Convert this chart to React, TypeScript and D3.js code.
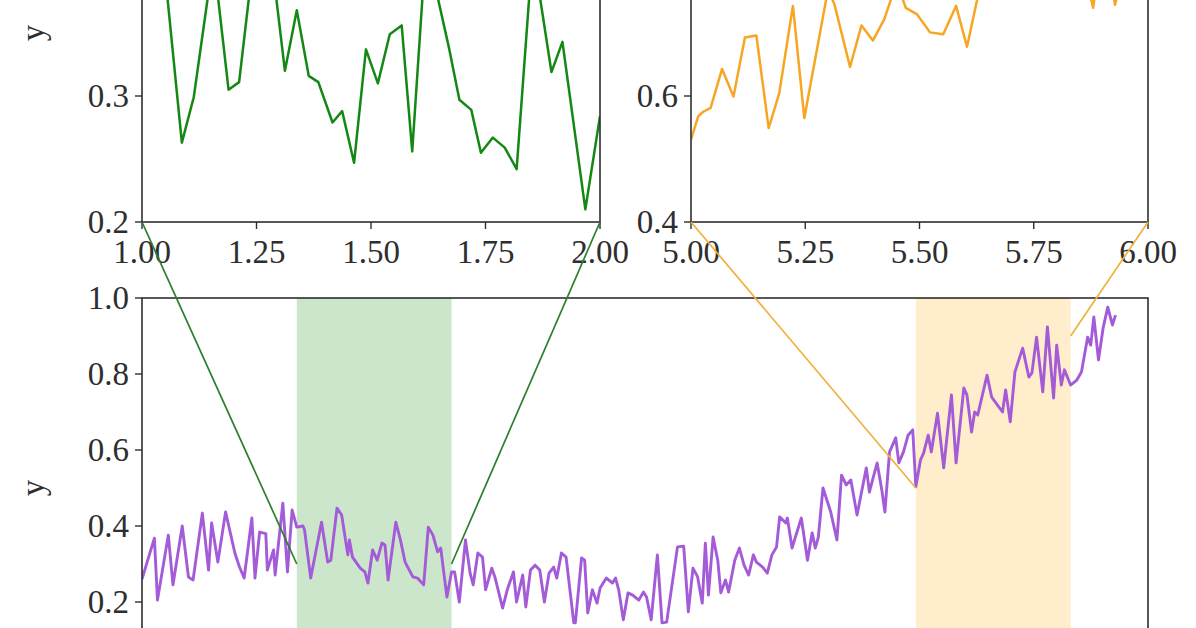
import * as d3 from "d3";

// main series (x, y)
const purplePoints: [number, number][] = [
  [0.0, 0.26], [0.08, 0.368], [0.1, 0.205], [0.17, 0.376], [0.2, 0.245], [0.26, 0.4],
  [0.3, 0.266], [0.33, 0.258], [0.39, 0.434], [0.43, 0.284], [0.45, 0.408], [0.49, 0.305],
  [0.54, 0.437], [0.6, 0.329], [0.63, 0.292], [0.66, 0.263], [0.71, 0.421], [0.73, 0.263],
  [0.76, 0.384], [0.8, 0.38], [0.81, 0.284], [0.85, 0.337], [0.86, 0.271], [0.91, 0.46],
  [0.94, 0.279], [0.97, 0.442], [1.0, 0.397], [1.04, 0.4], [1.05, 0.39], [1.09, 0.263],
  [1.16, 0.41], [1.2, 0.305], [1.22, 0.31], [1.26, 0.447], [1.29, 0.429], [1.33, 0.324],
  [1.34, 0.363], [1.36, 0.318], [1.41, 0.289], [1.44, 0.279], [1.46, 0.25], [1.49, 0.337],
  [1.52, 0.31], [1.55, 0.355], [1.57, 0.35], [1.59, 0.258], [1.64, 0.41], [1.67, 0.363],
  [1.7, 0.305], [1.75, 0.266], [1.78, 0.263], [1.82, 0.245], [1.85, 0.397], [1.88, 0.376],
  [1.91, 0.332], [1.93, 0.342], [1.97, 0.213], [2.0, 0.279], [2.02, 0.279], [2.05, 0.2],
  [2.09, 0.363], [2.12, 0.276], [2.14, 0.245], [2.17, 0.329], [2.2, 0.318], [2.22, 0.232],
  [2.26, 0.289], [2.28, 0.266], [2.33, 0.184], [2.36, 0.232], [2.4, 0.279], [2.42, 0.2],
  [2.46, 0.271], [2.48, 0.187], [2.51, 0.284], [2.54, 0.297], [2.57, 0.284], [2.6, 0.2],
  [2.63, 0.276], [2.66, 0.292], [2.68, 0.263], [2.71, 0.329], [2.74, 0.318], [2.79, 0.145],
  [2.8, 0.145], [2.84, 0.316], [2.86, 0.31], [2.88, 0.171], [2.91, 0.232], [2.94, 0.197],
  [2.96, 0.237], [3.0, 0.263], [3.04, 0.25], [3.06, 0.263], [3.08, 0.232], [3.11, 0.153],
  [3.14, 0.224], [3.17, 0.218], [3.21, 0.205], [3.24, 0.226], [3.26, 0.213], [3.29, 0.153],
  [3.33, 0.324], [3.36, 0.145], [3.39, 0.147], [3.46, 0.345], [3.5, 0.347], [3.53, 0.174],
  [3.56, 0.289], [3.59, 0.266], [3.62, 0.197], [3.64, 0.355], [3.66, 0.218], [3.69, 0.371],
  [3.72, 0.31], [3.74, 0.224], [3.77, 0.258], [3.79, 0.226], [3.83, 0.31], [3.86, 0.342],
  [3.89, 0.297], [3.92, 0.271], [3.95, 0.324], [3.97, 0.305], [4.01, 0.292], [4.04, 0.276],
  [4.07, 0.324], [4.1, 0.345], [4.12, 0.424], [4.16, 0.408], [4.17, 0.421], [4.2, 0.342],
  [4.26, 0.421], [4.3, 0.31], [4.33, 0.382], [4.35, 0.342], [4.37, 0.371], [4.4, 0.5],
  [4.45, 0.437], [4.49, 0.363], [4.52, 0.534], [4.55, 0.508], [4.58, 0.521], [4.62, 0.429],
  [4.68, 0.553], [4.7, 0.489], [4.72, 0.521], [4.75, 0.566], [4.78, 0.495], [4.8, 0.437],
  [4.83, 0.595], [4.87, 0.632], [4.89, 0.566], [4.92, 0.595], [4.95, 0.639], [4.98, 0.653],
  [5.0, 0.503], [5.03, 0.574], [5.05, 0.592], [5.08, 0.639], [5.1, 0.595], [5.14, 0.697],
  [5.18, 0.553], [5.23, 0.745], [5.26, 0.566], [5.31, 0.763], [5.33, 0.745], [5.36, 0.647],
  [5.38, 0.7], [5.4, 0.692], [5.46, 0.797], [5.49, 0.739], [5.56, 0.7], [5.58, 0.758],
  [5.61, 0.674], [5.64, 0.805], [5.69, 0.868], [5.73, 0.792], [5.75, 0.803], [5.78, 0.897],
  [5.82, 0.753], [5.85, 0.924], [5.89, 0.737], [5.91, 0.876], [5.94, 0.771], [5.96, 0.811],
  [6.0, 0.771], [6.04, 0.784], [6.07, 0.805], [6.11, 0.897], [6.13, 0.876], [6.15, 0.95],
  [6.18, 0.837], [6.21, 0.921], [6.24, 0.976], [6.27, 0.929], [6.29, 0.955],
];

// zoomed series, upper left
const greenPoints: [number, number][] = [
  [1.0, 0.4], [1.04, 0.435], [1.087, 0.263], [1.113, 0.299], [1.156, 0.41], [1.189, 0.305],
  [1.212, 0.311], [1.263, 0.47], [1.312, 0.32], [1.338, 0.368], [1.364, 0.316], [1.385, 0.311],
  [1.416, 0.279], [1.437, 0.288], [1.463, 0.247], [1.489, 0.337], [1.515, 0.31], [1.541, 0.349],
  [1.567, 0.356], [1.59, 0.256], [1.62, 0.42], [1.671, 0.337], [1.693, 0.297], [1.719, 0.289],
  [1.74, 0.255], [1.766, 0.267], [1.792, 0.259], [1.818, 0.242], [1.853, 0.416], [1.894, 0.319],
  [1.918, 0.343], [1.968, 0.21], [2.0, 0.284],
];

// zoomed series, upper right
const orangePoints: [number, number][] = [
  [5.0, 0.531], [5.016, 0.568], [5.027, 0.575], [5.043, 0.581], [5.068, 0.643], [5.093, 0.599],
  [5.118, 0.693], [5.143, 0.696], [5.17, 0.549], [5.193, 0.604], [5.223, 0.743], [5.248, 0.565],
  [5.3, 0.77], [5.314, 0.745], [5.348, 0.646], [5.373, 0.712], [5.398, 0.688], [5.423, 0.722],
  [5.45, 0.78], [5.47, 0.74], [5.494, 0.73], [5.523, 0.701], [5.552, 0.698], [5.58, 0.743],
  [5.604, 0.678], [5.64, 0.8], [5.68, 0.84], [5.72, 0.8], [5.76, 0.86], [5.8, 0.79],
  [5.84, 0.86], [5.88, 0.74], [5.9, 0.85], [5.928, 0.745], [5.96, 0.86], [5.99, 0.8], [6.0, 0.84],
];

const zoomSpans: [number, number][] = [[1, 2], [5, 6]];
const zoomColors = ["#148814", "#f7a623"];
const connectorColors = ["#2c7f2c", "#f0b13d"];
const shadeColors = ["#cce6cc", "#ffedcc"];
// where each connector meets the main panel, left and right end
const connectorY: [number, number][] = [[0.3, 0.3], [0.5, 0.9]];

const leftXTicks = [1, 1.25, 1.5, 1.75, 2];
const leftYTicks = [0.2, 0.3, 0.4, 0.5];
const rightXTicks = [5, 5.25, 5.5, 5.75, 6];
const rightYTicks = [0.4, 0.6, 0.8, 1.0];
const mainXTicks = [0, 1, 2, 3, 4, 5, 6];
const mainYTicks = [0, 0.2, 0.4, 0.6, 0.8, 1.0];

const W = 1196;
const H = 628;
const font = "'Liberation Serif', 'DejaVu Serif', serif";
const fontSize = 33;
const ink = "#2e2e2e";
const tickLen = 7;

type Box = { x0: number; x1: number; y0: number; y1: number };
const leftBox: Box = { x0: 142, x1: 600, y0: -156, y1: 222 };
const rightBox: Box = { x0: 691, x1: 1148, y0: -156, y1: 222 };
const mainBox: Box = { x0: 142, x1: 1148, y0: 298, y1: 678 };

const xLeft = d3.scaleLinear().domain([1, 2]).range([leftBox.x0, leftBox.x1]);
const yLeft = d3.scaleLinear().domain([0.2, 0.5]).range([leftBox.y1, leftBox.y0]);
const xRight = d3.scaleLinear().domain([5, 6]).range([rightBox.x0, rightBox.x1]);
const yRight = d3.scaleLinear().domain([0.4, 1.0]).range([rightBox.y1, rightBox.y0]);
const xMain = d3.scaleLinear().domain([0, 6.5]).range([mainBox.x0, mainBox.x1]);
const yMain = d3.scaleLinear().domain([0, 1]).range([mainBox.y1, mainBox.y0]);

// labels whose position falls outside the picture are left out
const inView = (pos: number, lo: number, hi: number) => pos >= lo && pos <= hi;

function Frame({
  box, x, y, xTicks, yTicks, xFmt, yFmt, ylabel,
}: {
  box: Box;
  x: d3.ScaleLinear<number, number>;
  y: d3.ScaleLinear<number, number>;
  xTicks: number[];
  yTicks: number[];
  xFmt: (n: number) => string;
  yFmt: (n: number) => string;
  ylabel?: string;
}) {
  const cy = (box.y0 + box.y1) / 2;
  const xLabelY = box.y1 + 41;
  return (
    <g fontFamily={font} fontSize={fontSize} fill={ink}>
      <rect
        x={box.x0}
        y={box.y0}
        width={box.x1 - box.x0}
        height={box.y1 - box.y0}
        fill="none"
        stroke={ink}
        strokeWidth={1.6}
      />
      {xTicks.map((t) => (
        <g key={"x" + t}>
          <line x1={x(t)} x2={x(t)} y1={box.y1} y2={box.y1 + tickLen} stroke={ink} strokeWidth={1.4} />
          {inView(xLabelY, 0, H) && (
            <text x={x(t)} y={xLabelY} textAnchor="middle">
              {xFmt(t)}
            </text>
          )}
        </g>
      ))}
      {yTicks.map((t) => (
        <g key={"y" + t}>
          <line x1={box.x0 - tickLen} x2={box.x0} y1={y(t)} y2={y(t)} stroke={ink} strokeWidth={1.4} />
          {inView(y(t), 14, H - 14) && (
            <text x={box.x0 - 13} y={y(t)} dy="0.34em" textAnchor="end">
              {yFmt(t)}
            </text>
          )}
        </g>
      ))}
      {ylabel && (
        <text x={44} y={cy} textAnchor="middle" transform={`rotate(-90 44 ${cy})`}>
          {ylabel}
        </text>
      )}
    </g>
  );
}

export default function App() {
  const fmt2 = d3.format(".2f");
  const fmt1 = d3.format(".1f");

  const lineLeft = d3.line<[number, number]>().x((d) => xLeft(d[0])).y((d) => yLeft(d[1]));
  const lineRight = d3.line<[number, number]>().x((d) => xRight(d[0])).y((d) => yRight(d[1]));
  const lineMain = d3.line<[number, number]>().x((d) => xMain(d[0])).y((d) => yMain(d[1]));

  // inset corners that the connectors start from
  const insetCorners = [
    [
      [xLeft(1), yLeft(0.2)],
      [xLeft(2), yLeft(0.2)],
    ],
    [
      [xRight(5), yRight(0.4)],
      [xRight(6), yRight(0.4)],
    ],
  ];

  return (
    <div style={{ position: "fixed", left: 0, top: 0, width: W, height: H, background: "#fff" }}>
      <svg width={W} height={H} style={{ display: "block", overflow: "hidden" }}>
        <defs>
          <clipPath id="clipMain">
            <rect x={mainBox.x0} y={mainBox.y0} width={mainBox.x1 - mainBox.x0} height={mainBox.y1 - mainBox.y0} />
          </clipPath>
          <clipPath id="clipLeft">
            <rect x={leftBox.x0} y={leftBox.y0} width={leftBox.x1 - leftBox.x0} height={leftBox.y1 - leftBox.y0} />
          </clipPath>
          <clipPath id="clipRight">
            <rect x={rightBox.x0} y={rightBox.y0} width={rightBox.x1 - rightBox.x0} height={rightBox.y1 - rightBox.y0} />
          </clipPath>
        </defs>

        {/* main panel */}
        <g clipPath="url(#clipMain)">
          {zoomSpans.map(([a, b], i) => (
            <rect
              key={i}
              x={xMain(a)}
              y={mainBox.y0}
              width={xMain(b) - xMain(a)}
              height={mainBox.y1 - mainBox.y0}
              fill={shadeColors[i]}
            />
          ))}
          <path d={lineMain(purplePoints) ?? ""} fill="none" stroke="#a45bd8" strokeWidth={2.9} strokeLinejoin="round" />
        </g>
        <Frame box={mainBox} x={xMain} y={yMain} xTicks={mainXTicks} yTicks={mainYTicks} xFmt={(n) => String(n)} yFmt={fmt1} ylabel="y" />

        {/* upper left inset */}
        <g clipPath="url(#clipLeft)">
          <path d={lineLeft(greenPoints) ?? ""} fill="none" stroke={zoomColors[0]} strokeWidth={2.5} strokeLinejoin="round" />
        </g>
        <Frame box={leftBox} x={xLeft} y={yLeft} xTicks={leftXTicks} yTicks={leftYTicks} xFmt={fmt2} yFmt={fmt1} ylabel="y" />

        {/* upper right inset */}
        <g clipPath="url(#clipRight)">
          <path d={lineRight(orangePoints) ?? ""} fill="none" stroke={zoomColors[1]} strokeWidth={2.5} strokeLinejoin="round" />
        </g>
        <Frame box={rightBox} x={xRight} y={yRight} xTicks={rightXTicks} yTicks={rightYTicks} xFmt={fmt2} yFmt={fmt1} />

        {/* connectors */}
        {zoomSpans.map(([a, b], i) => (
          <g key={"c" + i} stroke={connectorColors[i]} strokeWidth={1.7}>
            <line x1={insetCorners[i][0][0]} y1={insetCorners[i][0][1]} x2={xMain(a)} y2={yMain(connectorY[i][0])} />
            <line x1={insetCorners[i][1][0]} y1={insetCorners[i][1][1]} x2={xMain(b)} y2={yMain(connectorY[i][1])} />
          </g>
        ))}
      </svg>
    </div>
  );
}
